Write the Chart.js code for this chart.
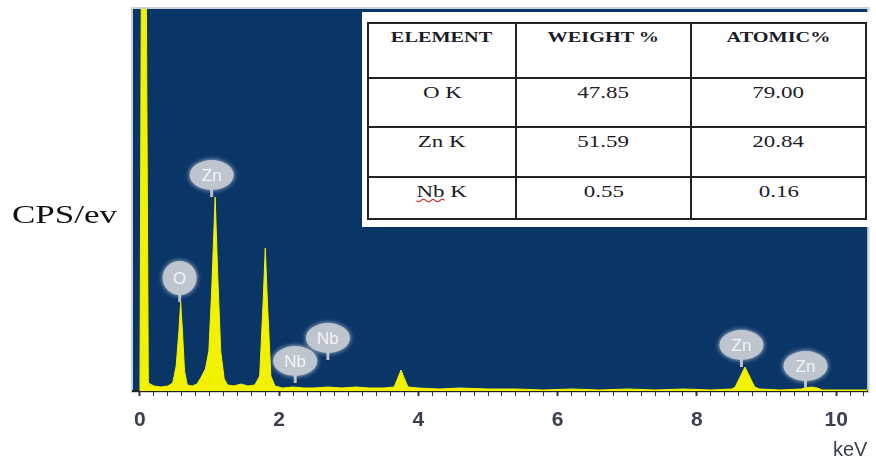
<!DOCTYPE html>
<html>
<head>
<meta charset="utf-8">
<script src="https://cdn.jsdelivr.net/npm/chart.js@4.4.0/dist/chart.umd.min.js"></script>
<style>
  html, body { margin: 0; padding: 0; background: #fff; }
  #wrap { position: relative; width: 876px; height: 465px; overflow: hidden; }
  #cps { position: absolute; left: 12px; top: 201px; font-family: "Liberation Serif", serif; font-size: 25px; color: #111;
         transform: scaleX(1.4); transform-origin: left center; }
  #box { position: absolute; left: 362px; top: 12px; width: 510px; height: 215px; background: #fff; }
  #tbl { position: absolute; left: 5px; top: 10px; border-collapse: collapse; font-family: "Liberation Serif", serif;
         color: #1c1c28; }
  #tbl td { border: 2px solid #222; text-align: center; vertical-align: top; padding: 4px 0 0 0; font-size: 17px; }
  #tbl td span.t { display: inline-block; transform: scaleX(1.35); }
  #tbl tr.head td { font-weight: bold; font-size: 15px; padding-top: 5px; }
  .wavy { text-decoration: underline wavy #d02020; text-decoration-thickness: 1px; }
</style>
</head>
<body>
<div id="wrap">
  <canvas id="edsChart" width="876" height="465"></canvas>
  <div id="cps">CPS/ev</div>
  <div id="box"><table id="tbl"></table></div>
</div>
<script>
// spectrum (keV, counts)
const energy = [0.0, 0.02, 0.09, 0.12, 0.2, 0.3, 0.4, 0.47, 0.52, 0.56, 0.585, 0.61, 0.64, 0.68, 0.75, 0.82, 0.88, 0.94, 0.99,
  1.03, 1.08, 1.12, 1.16, 1.21, 1.26, 1.35, 1.45, 1.55, 1.65, 1.72, 1.77, 1.80, 1.83, 1.88, 1.94, 2.05, 2.2, 2.35, 2.5, 2.7,
  2.9, 3.1, 3.3, 3.5, 3.65, 3.71, 3.75, 3.79, 3.85, 4.0, 4.3, 4.6, 5.0, 5.4, 5.8, 6.2, 6.6, 7.0, 7.4, 7.8, 8.2, 8.5, 8.55,
  8.69, 8.83, 8.9, 9.2, 9.5, 9.55, 9.64, 9.73, 9.8, 10.1, 10.45];
const counts = [0, 420, 420, 8, 5, 4, 5, 8, 25, 60, 89, 60, 20, 6, 5, 7, 14, 22, 40,
  100, 194, 110, 40, 12, 6, 5, 7, 5, 6, 15, 90, 143, 90, 15, 5, 3, 4, 3, 3, 4,
  3, 4, 3, 3, 4, 14, 21, 14, 4, 3, 2, 3, 2, 2, 1, 2, 1, 2, 1, 2, 1, 2, 4,
  24, 4, 2, 1, 2, 3, 4, 3, 1, 1, 1];

// element markers on the spectrum
const markNames = ['O', 'Zn', 'Nb', 'Nb', 'Zn', 'Zn'];
const markEnergy = [0.57, 1.03, 2.23, 2.70, 8.64, 9.56];
const markCounts = [89, 194, 8, 31, 24, 3];

// quantification table
const tableHead = ['ELEMENT', 'WEIGHT  %', 'ATOMIC%'];
const tableElem = ['O K', 'Zn K', 'Nb K'];
const tableWeight = ['47.85', '51.59', '0.55'];
const tableAtomic = ['79.00', '20.84', '0.16'];

const tickMajor = [0, 2, 4, 6, 8, 10];

// build table
const tbl = document.getElementById('tbl');
const colW = [148, 175, 175];
const rowH = [55, 50, 51, 43];
function addRow(cells, cls, h) {
  const tr = document.createElement('tr');
  if (cls) tr.className = cls;
  cells.forEach((c, i) => {
    const td = document.createElement('td');
    td.style.width = (colW[i] - 2) + 'px';
    td.style.height = (h - 7) + 'px';
    const s = document.createElement('span');
    s.className = 't';
    if (c.startsWith('Nb')) {
      s.innerHTML = '<span class="wavy">Nb</span>&nbsp;' + c.slice(3);
    } else {
      s.textContent = c;
    }
    td.appendChild(s);
    tr.appendChild(td);
  });
  tbl.appendChild(tr);
}
addRow(tableHead, 'head', rowH[0]);
tableElem.forEach((e, i) => addRow([e, tableWeight[i], tableAtomic[i]], '', rowH[i + 1]));

const plotBg = {
  id: 'plotBg',
  beforeDraw(chart) {
    const { ctx, chartArea: a } = chart;
    ctx.save();
    ctx.fillStyle = '#0a3567';
    ctx.fillRect(a.left, a.top, a.right - a.left, a.bottom - a.top);
    ctx.strokeStyle = '#c9d1dd';
    ctx.lineWidth = 2;
    ctx.strokeRect(a.left - 1, a.top - 1, a.right - a.left + 2, a.bottom - a.top + 2);
    ctx.restore();
  }
};

const bubbles = {
  id: 'bubbles',
  afterDatasetsDraw(chart) {
    const { ctx, scales: { x, y } } = chart;
    ctx.save();
    ctx.font = '17px "Liberation Sans", Arial, sans-serif';
    ctx.textAlign = 'center';
    ctx.textBaseline = 'middle';
    markNames.forEach((name, i) => {
      const px = x.getPixelForValue(markEnergy[i]);
      const py = y.getPixelForValue(markCounts[i]);
      const ry = name.length === 1 ? 17 : 15;
      const rx = name.length === 1 ? 17 : 22;
      const cy = py - 7 - ry;
      ctx.strokeStyle = '#b8bec9';
      ctx.lineWidth = 3;
      ctx.beginPath();
      ctx.moveTo(px, cy + ry - 2);
      ctx.lineTo(px, py);
      ctx.stroke();
      ctx.shadowColor = 'rgba(215,220,230,0.9)';
      ctx.shadowBlur = 5;
      ctx.fillStyle = '#bfc5cf';
      ctx.beginPath();
      ctx.ellipse(px, cy, rx, ry, 0, 0, Math.PI * 2);
      ctx.fill();
      ctx.shadowBlur = 0;
      ctx.fillStyle = '#f3f5fa';
      ctx.fillText(name, px, cy + 1);
    });
    ctx.restore();
  }
};

new Chart(document.getElementById('edsChart').getContext('2d'), {
  type: 'line',
  data: {
    datasets: [{
      data: energy.map((e, i) => ({ x: e, y: counts[i] })),
      borderColor: '#f2f200',
      backgroundColor: '#f2f200',
      borderWidth: 1,
      fill: 'origin',
      pointRadius: 0,
      tension: 0
    }]
  },
  options: {
    responsive: false,
    devicePixelRatio: 1,
    animation: false,
    events: [],
    layout: { padding: { left: 133, top: 9, right: 4, bottom: 0 } },
    plugins: { legend: { display: false }, tooltip: { enabled: false } },
    scales: {
      y: { display: false, min: 0, max: 382 },
      x: {
        type: 'linear',
        min: -0.1,
        max: 10.45,
        afterFit(scale) { scale.height = 74; },
        border: { color: '#222', width: 2 },
        grid: {
          drawOnChartArea: false,
          tickLength: 5,
          tickColor: '#333',
          tickWidth: ctx => (tickMajor.some(t => Math.abs(t - ctx.tick.value) < 1e-6) ? 2 : 1)
        },
        ticks: {
          stepSize: 0.2,
          includeBounds: false,
          autoSkip: false,
          maxRotation: 0,
          padding: 12,
          color: '#3a4050',
          font: { family: '"Liberation Sans", Arial, sans-serif', size: 21, weight: 'bold' },
          callback: v => (tickMajor.some(t => Math.abs(t - v) < 1e-6) ? String(Math.round(v)) : '')
        },
        title: {
          display: true,
          text: 'keV',
          align: 'end',
          color: '#3a4050',
          padding: { top: 0, bottom: 3 },
          font: { family: '"Liberation Sans", Arial, sans-serif', size: 20 }
        }
      }
    }
  },
  plugins: [plotBg, bubbles]
});
</script>
</body>
</html>
